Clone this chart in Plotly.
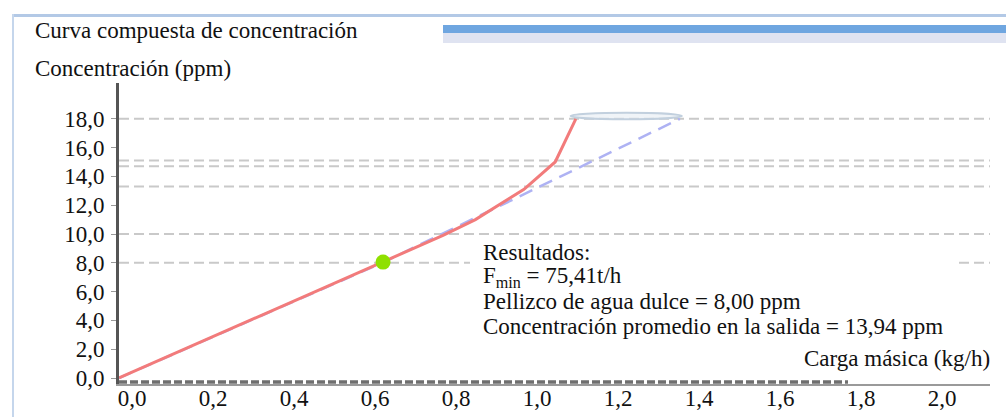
import plotly.graph_objects as go

# ---------------- data ----------------
x_ticks = [0.0, 0.2, 0.4, 0.6, 0.8, 1.0, 1.2, 1.4, 1.6, 1.8, 2.0]
x_ticktext = ["0,0", "0,2", "0,4", "0,6", "0,8", "1,0", "1,2", "1,4", "1,6", "1,8", "2,0"]
y_ticks = [0, 2, 4, 6, 8, 10, 12, 14, 16, 18]
y_ticktext = ["0,0", "2,0", "4,0", "6,0", "8,0", "10,0", "12,0", "14,0", "16,0", "18,0"]

# composite curve (red)
comp_x = [0.0, 0.65, 0.80, 0.88, 0.95, 1.0, 1.077, 1.128]
comp_y = [0.0, 8.0, 9.9, 11.0, 12.2, 13.1, 15.0, 18.0]

# fresh water supply line (blue dashed)
supply_x = [0.0, 0.65, 1.385]
supply_y = [0.0, 8.0, 18.0]

# pinch point
pinch_x = [0.652]
pinch_y = [8.05]

# horizontal concentration levels (dashed grey)
level_y = [18.0, 15.1, 14.7, 13.3, 10.0, 8.0]
level_x = [0.0, 2.2]

# dark dashed base line
base_x = [0.0, 1.8]
base_y = [-0.28, -0.28]

# top "pill" marker extents
pill_x = [1.115, 1.39]
pill_y = [17.97, 18.42]

# result texts
result_lines = [
    "Resultados:",
    "F<sub>min</sub> = 75,41t/h",
    "Pellizco de agua dulce = 8,00 ppm",
    "Concentración promedio en la salida = 13,94 ppm",
]

# ---------------- layout geometry ----------------
W, H = 1006, 417
L, R, T, B = 119, 16, 83, 33
PXX = 405.0   # px per x unit
PXY = 14.4    # px per y unit
y0_px = 378   # pixel row of y=0
x_range = [0, (W - L - R) / PXX]
y_range = [-(H - B - y0_px) / PXY, (y0_px - T) / PXY]


def fx(px):
    return (px - L) / (W - L - R)


def fy(py):
    return (H - B - py) / (H - T - B)


SERIF = "Liberation Serif, Times New Roman, serif"
FS = 23

fig = go.Figure()

for lv in level_y:
    fig.add_trace(go.Scatter(
        x=level_x, y=[lv, lv], mode="lines",
        line=dict(color="#c9c9c9", width=2, dash="10px,5px"),
        hoverinfo="skip", showlegend=False))

fig.add_trace(go.Scatter(
    x=base_x, y=base_y, mode="lines",
    line=dict(color="#6f6f6f", width=3.5, dash="8px,3px"),
    hoverinfo="skip", showlegend=False))

fig.add_trace(go.Scatter(
    x=supply_x, y=supply_y, mode="lines",
    line=dict(color="#aeb2f3", width=2.5, dash="14px,8px"),
    showlegend=False))

fig.add_trace(go.Scatter(
    x=comp_x, y=comp_y, mode="lines",
    line=dict(color="#f27b7b", width=3),
    showlegend=False))

fig.add_trace(go.Scatter(
    x=pinch_x, y=pinch_y, mode="markers",
    marker=dict(color="#8fe000", size=15, line=dict(width=0)),
    showlegend=False))

shapes = [
    # white box behind results text
    dict(type="rect", xref="paper", yref="paper",
         x0=fx(470), x1=fx(955), y0=fy(341), y1=fy(240),
         fillcolor="white", line=dict(width=0), layer="above"),
    # pill at top
    dict(type="circle", xref="x", yref="y",
         x0=pill_x[0], x1=pill_x[1], y0=pill_y[0], y1=pill_y[1],
         fillcolor="rgba(225,233,242,0.5)", line=dict(color="#c2d0de", width=2)),
    # frame: top light line
    dict(type="rect", xref="paper", yref="paper",
         x0=fx(12), x1=fx(1006), y0=fy(17), y1=fy(14),
         fillcolor="#b3c9e6", line=dict(width=0)),
    # frame: left light line
    dict(type="rect", xref="paper", yref="paper",
         x0=fx(12), x1=fx(14), y0=fy(417), y1=fy(14),
         fillcolor="#c5d6ec", line=dict(width=0)),
    # blue bar
    dict(type="rect", xref="paper", yref="paper",
         x0=fx(443), x1=fx(1006), y0=fy(33), y1=fy(25),
         fillcolor="#6fa6e0", line=dict(width=0)),
    # lavender band
    dict(type="rect", xref="paper", yref="paper",
         x0=fx(443), x1=fx(1006), y0=fy(43), y1=fy(33),
         fillcolor="#dfe3f1", line=dict(width=0)),
]

annotations = [
    dict(text="Curva compuesta de concentración", xref="paper", yref="paper",
         x=fx(33), y=fy(31), xanchor="left", yanchor="middle", showarrow=False,
         font=dict(family=SERIF, size=FS, color="#111")),
    dict(text="Concentración (ppm)", xref="paper", yref="paper",
         x=fx(33), y=fy(68), xanchor="left", yanchor="middle", showarrow=False,
         font=dict(family=SERIF, size=FS, color="#111")),
    dict(text="Carga másica (kg/h)", xref="paper", yref="paper",
         x=fx(992), y=fy(358), xanchor="right", yanchor="middle", showarrow=False,
         font=dict(family=SERIF, size=FS, color="#111")),
]
line_centers = [253, 277, 301, 326]
for txt, cy in zip(result_lines, line_centers):
    annotations.append(dict(
        text=txt, xref="paper", yref="paper", x=fx(481), y=fy(cy),
        xanchor="left", yanchor="middle", align="left", showarrow=False,
        font=dict(family=SERIF, size=FS, color="#111")))

fig.update_layout(
    width=W, height=H, autosize=False,
    margin=dict(l=L, r=R, t=T, b=B, pad=0),
    paper_bgcolor="white", plot_bgcolor="white",
    shapes=shapes, annotations=annotations,
    xaxis=dict(range=x_range, tickvals=x_ticks, ticktext=x_ticktext,
               showgrid=False, zeroline=False, showline=True, automargin=False,
               linecolor="#9a9a9a", linewidth=2, ticks="",
               ticklabelshift=13, ticklabelstandoff=-8,
               tickfont=dict(family=SERIF, size=FS, color="#111"), fixedrange=True),
    yaxis=dict(range=y_range, tickvals=y_ticks, ticktext=y_ticktext,
               showgrid=False, zeroline=False, showline=True, automargin=False,
               linecolor="#555555", linewidth=3, ticks="outside", ticklen=5,
               tickcolor="#999999", tickwidth=1, ticklabelstandoff=2,
               tickfont=dict(family=SERIF, size=FS, color="#111"), fixedrange=True),
)

fig.write_html("out.html",
               config={"displayModeBar": False},
               post_script="document.body.style.margin='0';document.body.style.overflow='hidden';")
